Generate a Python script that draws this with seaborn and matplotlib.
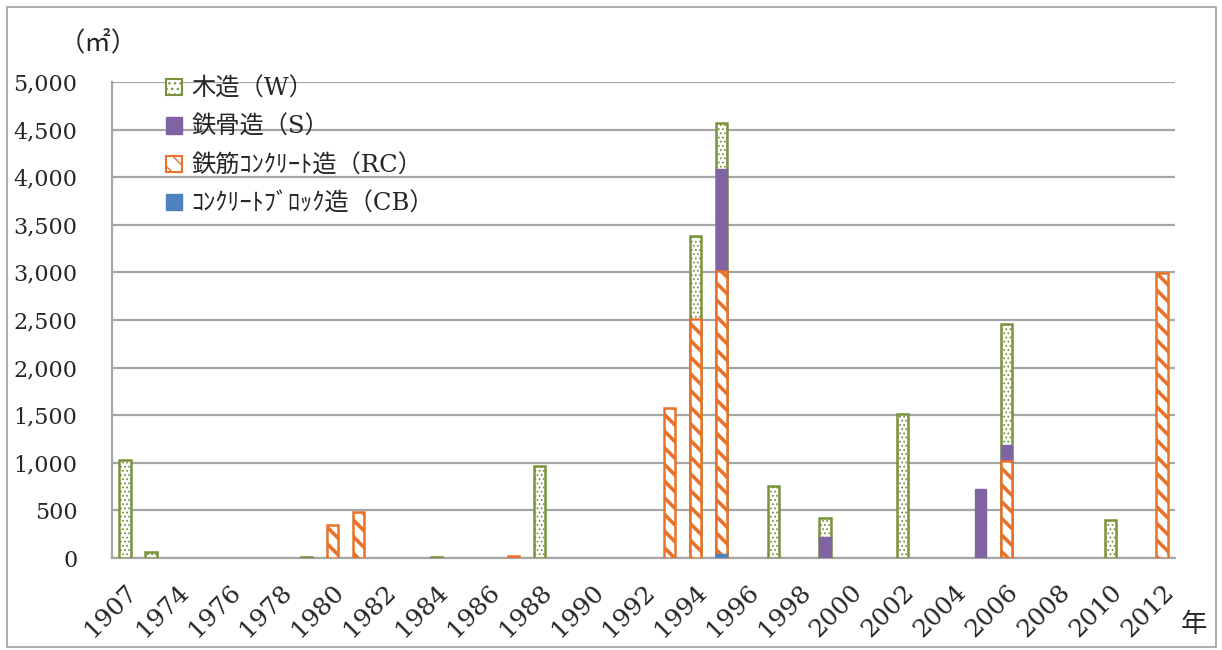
import matplotlib
matplotlib.use("Agg")
import matplotlib.pyplot as plt
from matplotlib.patches import Patch, Rectangle
from matplotlib.transforms import ScaledTranslation
import numpy as np
import pandas as pd
import seaborn as sns

# categories (x axis)
years = ["1907"] + [str(y) for y in range(1973, 2013)]

# floor area by structure type (m2)
wood = {"1907": 1032, "1973": 59, "1979": 12, "1984": 15, "1988": 970, "1994": 875,
        "1995": 480, "1997": 759, "1999": 204, "2002": 1512, "2006": 1271, "2010": 399}
steel = {"1995": 1081, "1999": 216, "2005": 724, "2006": 164}
rc = {"1980": 350, "1981": 486, "1987": 18, "1993": 1581, "1994": 2510,
      "1995": 2968, "2006": 1022, "2012": 2993}
cb = {"1995": 42}

labels = ["木造（W）", "鉄骨造（S）", "鉄筋ｺﾝｸﾘｰﾄ造（RC）", "ｺﾝｸﾘｰﾄﾌﾞﾛｯｸ造（CB）"]

df = pd.DataFrame({"year": years})
df["CB"] = df["year"].map(cb).fillna(0)
df["RC"] = df["year"].map(rc).fillna(0)
df["S"] = df["year"].map(steel).fillna(0)
df["W"] = df["year"].map(wood).fillna(0)

GREEN = "#77933C"
PURPLE = "#8064A2"
ORANGE = "#E8722A"
BLUE = "#4F81BD"
GRID = "#A6A6A6"

DOTS = "...."
STRIPES = "\\\\"

sns.set_style("white")
plt.rcParams["font.family"] = ["DejaVu Serif", "Noto Sans CJK JP"]

fig = plt.figure(figsize=(12.22, 6.5), dpi=100)
ax = fig.add_axes([0.0917, 0.1415, 0.8698, 0.7323])

# draw layers top-down as cumulative heights so lower layers sit over upper ones
layers = [
    ("W", 0.8, dict(color="white", edgecolor=GREEN, hatch=DOTS, linewidth=1.8)),
    ("S", 1.0, dict(color=PURPLE, edgecolor=PURPLE, linewidth=1.0)),
    ("RC", 2.6, dict(color="white", edgecolor=ORANGE, hatch=STRIPES, linewidth=1.8)),
    ("CB", 1.0, dict(color=BLUE, edgecolor=BLUE, linewidth=1.0)),
]
order_stack = ["CB", "RC", "S", "W"]
for name, hlw, style in layers:
    upto = order_stack[: order_stack.index(name) + 1]
    sub = df.assign(top=df[upto].sum(axis=1))
    sub = sub[sub[name] > 0]
    with plt.rc_context({"hatch.linewidth": hlw}):
        n0 = len(ax.patches)
        sns.barplot(data=sub, x="year", y="top", order=years, ax=ax, width=0.43,
                    errorbar=None, saturation=1, zorder=3, **style)
        for p in ax.patches[n0:]:
            if hasattr(p, "set_hatch_linewidth"):
                p.set_hatch_linewidth(hlw)

ax.set_xlim(-0.5, len(years) - 0.5)
ax.set_ylim(0, 5000)
ax.set_yticks(np.arange(0, 5001, 500))
ax.set_yticklabels([f"{v:,}" for v in range(0, 5001, 500)], fontsize=16)
ax.yaxis.grid(True, color=GRID, linewidth=1.6, zorder=0)
ax.set_axisbelow(True)

ax.set_xticks(range(len(years)))
ax.set_xticklabels([y if i % 2 == 0 else "" for i, y in enumerate(years)],
                   fontsize=18, rotation=45, ha="right", rotation_mode="anchor")
shift = ScaledTranslation(-5 / 100, 0, fig.dpi_scale_trans)
for lbl in ax.get_xticklabels():
    lbl.set_transform(lbl.get_transform() + shift)
ax.set_xticks(np.arange(-0.5, len(years)), minor=True)
ax.tick_params(axis="x", which="major", length=0, pad=16)
ax.tick_params(axis="x", which="minor", length=6, width=1.4, color=GRID, direction="out")
ax.tick_params(axis="y", length=16, width=1.4, color=GRID, direction="inout", pad=17)
ax.set_xlabel("")
ax.set_ylabel("")

for side in ["top", "right"]:
    ax.spines[side].set_visible(False)
for side in ["left", "bottom"]:
    ax.spines[side].set_color(GRID)
    ax.spines[side].set_linewidth(1.6)

handles = [
    Patch(facecolor="white", edgecolor=GREEN, hatch="...", linewidth=1.5),
    Patch(facecolor=PURPLE, edgecolor=PURPLE),
    Patch(facecolor="white", edgecolor=ORANGE, hatch=STRIPES, linewidth=1.5),
    Patch(facecolor=BLUE, edgecolor=BLUE),
]
leg = ax.legend(handles, labels, loc="upper left", bbox_to_anchor=(0.03, 1.055),
                frameon=False, fontsize=17.5, handlelength=0.65, handleheight=0.65,
                handletextpad=0.4, labelspacing=0.62)

fig.text(0.080, 0.935, "（㎡）", fontsize=19, ha="center", va="center")
fig.text(0.977, 0.040, "年", fontsize=19, ha="center", va="center")

fig.patches.append(Rectangle((0.006, 0.005), 0.989, 0.984, transform=fig.transFigure,
                             fill=False, edgecolor="#A0A0A0", linewidth=1.2))

fig.savefig("out.png", dpi=100)
